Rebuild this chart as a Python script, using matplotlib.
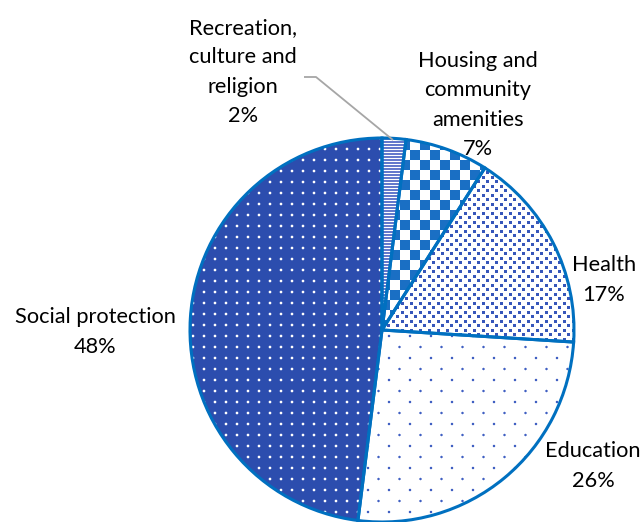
import matplotlib.pyplot as plt
import numpy as np
from matplotlib.colors import to_rgb

plt.rcParams['font.family'] = ['Lato', 'DejaVu Sans']

categories = ["Recreation,\nculture and\nreligion", "Housing and\ncommunity\namenities",
              "Health", "Education", "Social protection"]
shares = [2, 7, 17, 26, 48]

W, H = 644, 522
EDGE = '#0070C0'

fig = plt.figure(figsize=(W / 100, H / 100), dpi=100)
ax = fig.add_axes([0, 0, 1, 1])

# y axis runs downward, so startangle=-90 is 12 o'clock and counterclock=True
# goes round clockwise on screen
wedges, _ = ax.pie(shares, center=(382, 330), radius=192, startangle=-90,
                   counterclock=True, normalize=True,
                   wedgeprops=dict(facecolor='none', edgecolor=EDGE,
                                   linewidth=2.2, zorder=3))

# fill textures, one per slice
yy, xx = np.mgrid[0:H, 0:W].astype(float)


def blend(base, ink, amount):
    b = np.array(to_rgb(base))
    k = np.array(to_rgb(ink))
    a = np.clip(amount, 0, 1)[..., None]
    return b * (1 - a) + k * a


def soft_dots(px, py, r):
    # anti-aliased round dots centred at (px, py) inside each cell
    d = np.hypot(px, py)
    return np.clip(r + 0.5 - d, 0, 1)


stripes = blend('white', '#6479CC', ((yy % 3) != 2).astype(float))
checks = blend('white', '#1A6FC4',
               (((xx // 10 + yy // 10) % 2) == 0).astype(float))

sq_a = ((xx % 9) < 3) & ((yy % 9) < 3)
sq_b = (((xx + 4) % 9) < 3) & (((yy + 4) % 9) < 3)
squares = blend('white', '#3656BA', (sq_a | sq_b).astype(float))

row11 = yy // 11
ex = (xx + (row11 % 2) * 10.5) % 21 - 10.5
ey = yy % 11 - 5.5
sparse = blend('white', '#3F5FC2', soft_dots(ex, ey, 1.2))

dx, dy = xx % 11 - 5.5, yy % 11 - 5.5
dots = blend('#2C4DAE', 'white', soft_dots(dx, dy, 1.3))

for w, img in zip(wedges, [stripes, checks, squares, sparse, dots]):
    im = ax.imshow(img, extent=(0, W, H, 0), origin='upper',
                   interpolation='none', zorder=2)
    im.set_clip_path(w)
ax.set_xlim(0, W)
ax.set_ylim(H, 0)
ax.set_axis_off()

labels = [f"{c}\n{v}%" for c, v in zip(categories, shares)]
label_xy = [(243, 72), (478, 105), (604, 280), (593, 466), (95, 332)]
for txt, (x, y) in zip(labels, label_xy):
    ax.text(x, y, txt, ha='center', va='center', fontsize=15.7,
            linespacing=1.6, color='black')

# leader line for the small slice
ax.plot([304, 316, 393], [77, 77, 140], color='#A6A6A6', lw=1.3,
        solid_capstyle='butt', zorder=4)

fig.savefig('out.png', dpi=100)
